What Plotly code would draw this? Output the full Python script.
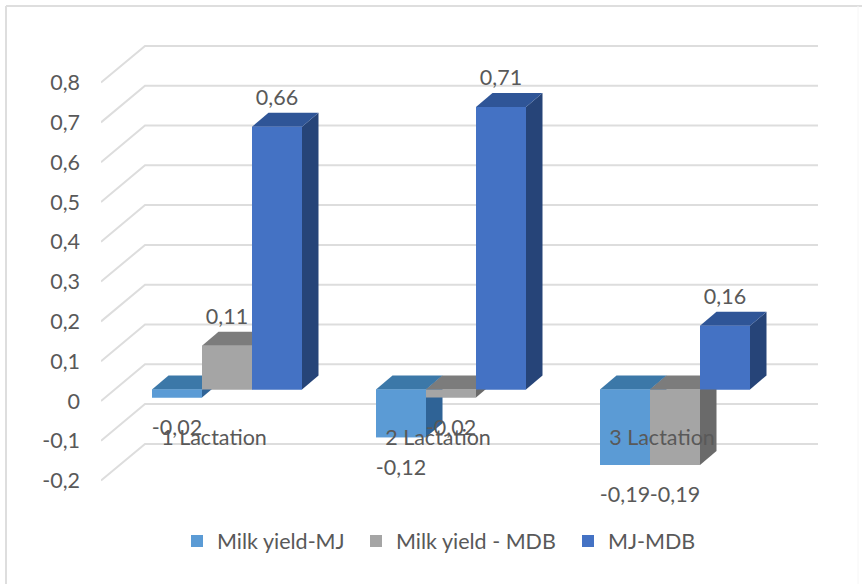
import plotly.graph_objects as go

# Chart data
categories = ["1 Lactation", "2 Lactation", "3 Lactation"]
series_names = ["Milk yield-MJ", "Milk yield - MDB", "MJ-MDB"]
milk_yield_mj = [-0.02, -0.12, -0.19]
milk_yield_mdb = [0.11, -0.02, -0.19]
mj_mdb = [0.66, 0.71, 0.16]
axis_ticks = [0.8, 0.7, 0.6, 0.5, 0.4, 0.3, 0.2, 0.1, 0, -0.1, -0.2]

# Face colours per series: front, top, side
front_colors = ["#5B9BD5", "#A5A5A5", "#4472C4"]
top_colors = ["#3C78A8", "#7C7C7C", "#2F5597"]
side_colors = ["#2F6396", "#6A6A6A", "#264478"]

TEXT = "#595959"
FONT = "Lato"
FONT_SIZE = 21.5
W, H = 862, 584

# Plot frame and scale in pixels; everything else goes through the axes
left, right, top, bottom = 101, 818, 40, 515
px_per_unit = 398.0
group_step = 224.0
zero_y = 389.5
first_group_x = 227.0

y_range = [(zero_y - bottom) / px_per_unit, (zero_y - top) / px_per_unit]
x_range = [(left - first_group_x) / group_step, (right - first_group_x) / group_step]


def dx(px):
    return px / group_step


def dy(px):
    return px / px_per_unit


bar_w = dx(50)
depth_x, depth_y = dx(16.5), dy(14)
offsets = [-bar_w, 0, bar_w]
all_series = [milk_yield_mj, milk_yield_mdb, mj_mdb]
xs = list(range(len(categories)))
legend_ids = ["legend", "legend2", "legend3"]
legend_left_px = [177, 356, 568]

fig = go.Figure()

# Flat bars carry the legend entries and the hover values
for s, values in enumerate(all_series):
    fig.add_bar(
        x=[i + offsets[s] for i in xs],
        y=values,
        width=bar_w,
        name=series_names[s],
        legend=legend_ids[s],
        showlegend=True,
        marker=dict(color=front_colors[s], line_width=0),
        hoverinfo="name+y",
    )

# Receding floor-to-wall gridlines: wall edge, back corner, right end
grid_x, grid_y = [], []
wall_back_x = x_range[0] + dx(44)
wall_rise, back_rise = dy(-11.5), dy(25.2)
for t in axis_ticks:
    grid_x += [x_range[0], wall_back_x, x_range[1], None]
    grid_y += [t + wall_rise, t + back_rise, t + back_rise, None]
fig.add_scatter(
    x=grid_x, y=grid_y, mode="lines",
    line=dict(color="#DDDDDD", width=2),
    showlegend=False, hoverinfo="skip",
)


def add_face(px, py, color):
    fig.add_scatter(
        x=px, y=py, mode="lines", fill="toself", fillcolor=color,
        line=dict(width=0), showlegend=False, hoverinfo="skip",
    )


# Extruded faces, painted left to right so each bar hides its neighbour's side
for i in xs:
    for s, values in enumerate(all_series):
        v = values[i]
        x0 = i + offsets[s] - bar_w / 2
        x1 = x0 + bar_w
        hi, lo = max(v, 0), min(v, 0)
        add_face([x1, x1 + depth_x, x1 + depth_x, x1],
                 [lo, lo + depth_y, hi + depth_y, hi], side_colors[s])
        add_face([x0, x1, x1 + depth_x, x0 + depth_x],
                 [hi, hi, hi + depth_y, hi + depth_y], top_colors[s])
        add_face([x0, x1, x1, x0], [lo, lo, hi, hi], front_colors[s])

# Value labels with decimal commas
label_x, label_y, label_text = [], [], []
for s, values in enumerate(all_series):
    for i, v in enumerate(values):
        label_x.append(i + offsets[s])
        label_y.append(v + (dy(27) if v > 0 else dy(-32)))
        label_text.append(f"{v:.2f}".replace(".", ","))
fig.add_scatter(
    x=label_x, y=label_y, text=label_text, mode="text",
    textposition="middle center",
    textfont=dict(family=FONT, size=FONT_SIZE, color=TEXT),
    showlegend=False, hoverinfo="skip",
)

# Window frame: only the top and left edges show strongly
frame = dict(type="line", xref="paper", yref="paper", layer="below")
to_px = lambda x: (x - left) / (right - left)
to_py = lambda y: (bottom - y) / (bottom - top)
shapes = [
    dict(frame, x0=to_px(6), x1=to_px(6), y0=to_py(6), y1=to_py(584),
         line=dict(color="#DEDEDE", width=2)),
    dict(frame, x0=to_px(6), x1=to_px(862), y0=to_py(6), y1=to_py(6),
         line=dict(color="#DEDEDE", width=2)),
    dict(frame, x0=to_px(858), x1=to_px(858), y0=to_py(6), y1=to_py(584),
         line=dict(color="#F6F6F6", width=1)),
]

# One legend box per series so each entry sits at its own spacing
legends = {
    legend_id: dict(
        orientation="h", x=to_px(px), xanchor="left",
        y=to_py(541), yanchor="middle",
        font=dict(family=FONT, size=FONT_SIZE, color=TEXT),
        bgcolor="rgba(0,0,0,0)",
    )
    for legend_id, px in zip(legend_ids, legend_left_px)
}

fig.update_layout(
    width=W, height=H,
    margin=dict(l=left, r=W - right, t=top, b=H - bottom, pad=0),
    paper_bgcolor="white", plot_bgcolor="white",
    barmode="overlay",
    font=dict(family=FONT, size=FONT_SIZE, color=TEXT),
    shapes=shapes,
    showlegend=True,
    xaxis=dict(
        range=x_range, anchor="free", position=to_py(422),
        tickvals=[i + dx(-13) for i in xs], ticktext=categories,
        showgrid=False, zeroline=False, showline=False, ticks="",
        tickfont=dict(family=FONT, size=FONT_SIZE, color=TEXT),
    ),
    yaxis=dict(
        range=y_range,
        tickvals=[t + wall_rise for t in axis_ticks],
        ticktext=[str(t).replace(".", ",") for t in axis_ticks],
        showgrid=False, zeroline=False, showline=False, ticks="",
        ticklabelstandoff=20,
        tickfont=dict(family=FONT, size=FONT_SIZE, color=TEXT),
    ),
    **legends,
)

fig.write_html("out.html")
